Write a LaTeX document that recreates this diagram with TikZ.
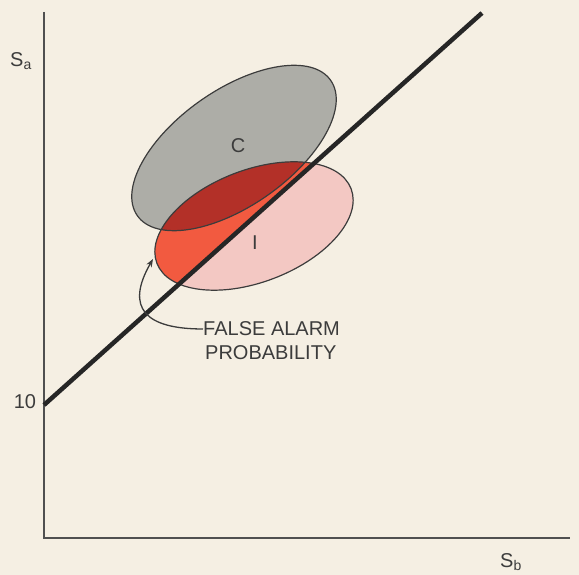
\documentclass[tikz,border=0pt]{standalone}
\usepackage{fontspec}
\setmainfont{Liberation Sans}
\usetikzlibrary{arrows.meta,positioning}
\definecolor{paper}{HTML}{F5EFE3}
\definecolor{ink}{HTML}{3C3C3C}
\definecolor{clsgray}{HTML}{ADADA7}
\definecolor{clspink}{HTML}{F3C8C3}
\definecolor{alarmred}{HTML}{F25A40}
\definecolor{overlapred}{HTML}{B33028}

\begin{document}
\begin{tikzpicture}[
		x=1pt, y=1pt,
		axis/.style={draw=ink!90, line width=2pt},
		blob/.style={draw=ink, line width=1.2pt},
		label/.style={text=ink, inner sep=0pt,
				font=\fontsize{20}{24}\selectfont},
		leader/.style={draw=ink, line width=1.3pt,
				-{Stealth[length=8pt,width=6pt]}},
		boundary/.style={draw=black!85, line width=4.5pt}]

	\useasboundingbox (0,0) rectangle (579,575);
	\fill[paper] (0,0) rectangle (579,575);

	% axes
	\coordinate (origin) at (44,37);
	\coordinate (ytop) at (44,563);
	\coordinate (xend) at (570,37);
	\draw[axis] (ytop) -- (origin) -- (xend);

	% decision line end points, class centres
	\coordinate (lo) at (44,170);
	\coordinate (hi) at (482,562);
	\coordinate (cC) at (234,427);
	\coordinate (cI) at (254,349);

	% class regions
	\fill[clsgray, rotate around={35:(cC)}] (cC) ellipse [x radius=118pt, y radius=58pt];
	\fill[clspink, rotate around={21:(cI)}] (cI) ellipse [x radius=104pt, y radius=56pt];
	\begin{scope}
		\clip[rotate around={21:(cI)}] (cI) ellipse [x radius=104pt, y radius=56pt];
		\fill[alarmred] (lo) -- (hi) -- (0,575) -- (0,170) -- cycle;
		\clip[rotate around={35:(cC)}] (cC) ellipse [x radius=118pt, y radius=58pt];
		\fill[overlapred] (lo) -- (hi) -- (0,575) -- (0,170) -- cycle;
	\end{scope}
	\draw[blob, rotate around={35:(cC)}] (cC) ellipse [x radius=118pt, y radius=58pt];
	\draw[blob, rotate around={21:(cI)}] (cI) ellipse [x radius=104pt, y radius=56pt];

	\draw[boundary] (lo) -- (hi);

	% labels
	\node[label] (sa)  at (21,514) {S\textsubscript{a}};
	\node[label] (ten) at (25,173) {10};
	\node[label] (sb)  at (511,13) {S\textsubscript{b}};
	\node[label] (cl)  at (238,429) {C};
	\node[label] (il)  at (255,332) {I};

	\node[label, anchor=west] (alarm) at (203,246) {FALSE ALARM};
	\node[label, below=8.7pt of alarm.south west, anchor=north west, xshift=2pt] (prob) {PROBABILITY};

	\coordinate (tip) at (153,316);
	\draw[leader] (alarm.west) to[out=180, in=240, looseness=1.7] (tip);

\end{tikzpicture}
\end{document}
